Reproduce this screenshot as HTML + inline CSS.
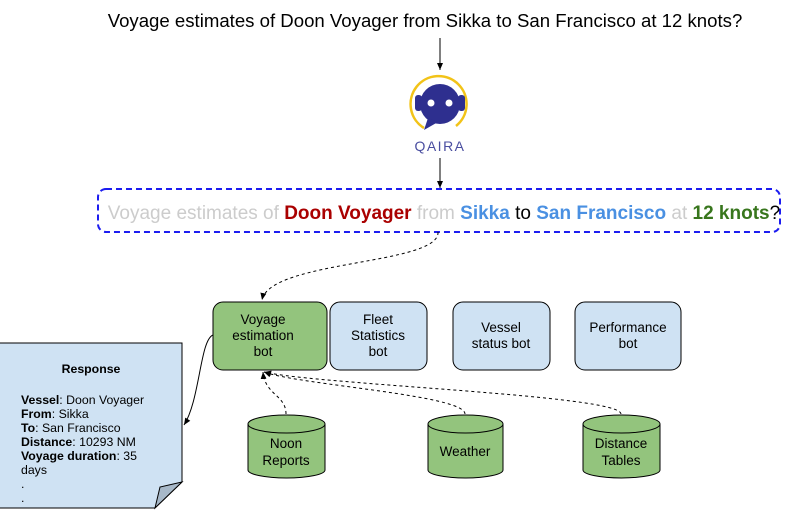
<!DOCTYPE html>
<html><head><style>body{margin:0;background:#fff}</style></head><body>
<svg width="785" height="516" xmlns="http://www.w3.org/2000/svg" font-family="Liberation Sans, sans-serif">
<defs><marker id="a" markerWidth="8" markerHeight="8" refX="7" refY="4" orient="auto" markerUnits="userSpaceOnUse"><path d="M0,1 L7,4 L0,7z" fill="#000"/></marker></defs>
<rect width="785" height="516" fill="#fff"/>
<text x="425" y="27" font-size="18.6" text-anchor="middle">Voyage estimates of Doon Voyager from Sikka to San Francisco at 12 knots?</text>
<line x1="440" y1="38" x2="440" y2="70" stroke="#000" marker-end="url(#a)"/>
<path d="M424,128 A28,28 0 1 1 456,126" fill="none" stroke="#f2c318" stroke-width="2.5"/>
<rect x="415" y="95" width="7" height="16" rx="3" fill="#2e2f8f"/>
<rect x="458" y="95" width="7" height="16" rx="3" fill="#2e2f8f"/>
<circle cx="440" cy="104" r="20" fill="#2e2f8f"/>
<path d="M428,118 L424,130 L438,122z" fill="#2e2f8f"/>
<circle cx="431" cy="103" r="3.5" fill="#fff"/><circle cx="449" cy="103" r="3.5" fill="#fff"/>
<text x="440" y="151" font-size="14" fill="#4a4ea0" text-anchor="middle" letter-spacing="1.5">QAIRA</text>
<line x1="440" y1="158" x2="440" y2="188" stroke="#000" marker-end="url(#a)"/>
<rect x="98" y="189" width="682" height="43" rx="8" fill="none" stroke="#1c1cf0" stroke-width="2" stroke-dasharray="6,4"/>
<text x="444" y="219" font-size="19" text-anchor="middle" fill="#ccc">Voyage estimates of <tspan fill="#a00" font-weight="bold">Doon Voyager</tspan> from <tspan fill="#4a90e2" font-weight="bold">Sikka</tspan> <tspan fill="#000">to</tspan> <tspan fill="#4a90e2" font-weight="bold">San Francisco</tspan> at <tspan fill="#38761d" font-weight="bold">12 knots</tspan><tspan fill="#000">?</tspan></text>
<path d="M438,232 C440,265 270,260 262,300" fill="none" stroke="#000" stroke-dasharray="3,3" marker-end="url(#a)"/>
<g stroke="#000">
<rect x="213" y="302" width="114" height="68" rx="10" fill="#93c47d"/>
<rect x="330" y="302" width="97" height="68" rx="10" fill="#cfe2f3"/>
<rect x="453" y="302" width="97" height="68" rx="10" fill="#cfe2f3"/>
<rect x="575" y="302" width="106" height="68" rx="10" fill="#cfe2f3"/>
</g>
<g font-size="13.5" text-anchor="middle">
<text x="263" y="324">Voyage</text><text x="263" y="340">estimation</text><text x="263" y="356">bot</text>
<text x="378" y="324">Fleet</text><text x="378" y="340">Statistics</text><text x="378" y="356">bot</text>
<text x="501" y="332">Vessel</text><text x="501" y="348">status bot</text>
<text x="628" y="332">Performance</text><text x="628" y="348">bot</text>
</g>
<path d="M0,343 H182 V482 L155,508 H0" fill="#cfe2f3" stroke="#000"/>
<path d="M182,482 L160,487 L155,508z" fill="#a7b8c8" stroke="#000"/>
<g font-size="12.3">
<text x="91" y="373" text-anchor="middle" font-weight="bold">Response</text>
<text x="21" y="404"><tspan font-weight="bold">Vessel</tspan>: Doon Voyager</text>
<text x="21" y="418"><tspan font-weight="bold">From</tspan>: Sikka</text>
<text x="21" y="432"><tspan font-weight="bold">To</tspan>: San Francisco</text>
<text x="21" y="446"><tspan font-weight="bold">Distance</tspan>: 10293 NM</text>
<text x="21" y="460"><tspan font-weight="bold">Voyage duration</tspan>: 35</text>
<text x="21" y="474">days</text><text x="21" y="488">.</text><text x="21" y="502">.</text>
</g>
<path d="M213,335 C200,340 200,400 184,425" fill="none" stroke="#000" marker-end="url(#a)"/>
<g fill="#93c47d" stroke="#000">
<path d="M248,424 V470 A38.5,8 0 0 0 325,470 V424"/><ellipse cx="286.5" cy="424" rx="38.5" ry="9"/>
<path d="M428,424 V470 A37.5,8 0 0 0 503,470 V424"/><ellipse cx="465.5" cy="424" rx="37.5" ry="9"/>
<path d="M583,424 V470 A38.5,8 0 0 0 660,470 V424"/><ellipse cx="621.5" cy="424" rx="38.5" ry="9"/>
</g>
<g font-size="13.5" text-anchor="middle">
<text x="286" y="448">Noon</text><text x="286" y="465">Reports</text>
<text x="465" y="456">Weather</text>
<text x="621" y="448">Distance</text><text x="621" y="465">Tables</text>
</g>
<g fill="none" stroke="#000" stroke-dasharray="3,3">
<path d="M286,414 C286,395 265,395 263,372" marker-end="url(#a)"/>
<path d="M465,414 C465,395 300,385 264,372" marker-end="url(#a)"/>
<path d="M621,414 C621,395 320,385 264,372" marker-end="url(#a)"/>
</g>
</svg>
</body></html>
